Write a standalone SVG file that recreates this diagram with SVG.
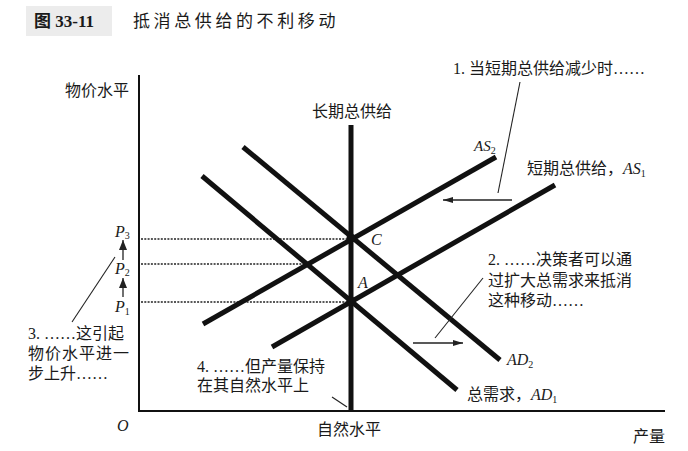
<svg xmlns="http://www.w3.org/2000/svg" width="688" height="451" viewBox="0 0 688 451">
<defs>
<style>
.cjk{font-family:"Liberation Serif","Noto Sans CJK SC",serif;font-size:16px;fill:#1a1a1a}
.it{font-family:"Liberation Serif",serif;font-style:italic;font-size:16px;fill:#1a1a1a}
.sub{font-size:10px;font-style:normal}
.curve{stroke:#111;stroke-width:5;fill:none;stroke-linecap:butt}
.axis{stroke:#111;stroke-width:2;fill:none}
.dot{stroke:#222;stroke-width:1.7;stroke-dasharray:2 1.3;fill:none}
.lead{stroke:#222;stroke-width:1.1;fill:none}
.arr{stroke:#222;stroke-width:1.3;fill:none}
</style>
<marker id="ah" viewBox="0 0 10 6" refX="10" refY="3" markerWidth="10" markerHeight="6" markerUnits="userSpaceOnUse" orient="auto">
<path d="M0,0 L10,3 L0,6 Z" fill="#222"/>
</marker>
<marker id="ahp" viewBox="0 0 8 10" refX="4" refY="0" markerWidth="8" markerHeight="10" markerUnits="userSpaceOnUse" orient="0">
<path d="M4,0 L8,10 L0,10 Z" fill="#222"/>
</marker>
</defs>
<rect width="688" height="451" fill="#fff"/>
<g id="title">
<rect x="26" y="6" width="86" height="30" fill="#ececec"/>
<text x="34" y="27" class="cjk" style="font-weight:bold;font-size:17px">图 33-11</text>
<text x="133" y="27" class="cjk" style="font-size:17px;letter-spacing:3.6px">抵消总供给的不利移动</text>
</g>
<g id="axes">
<line class="axis" x1="139" y1="75" x2="139" y2="411"/>
<line class="axis" x1="138" y1="411" x2="665" y2="411"/>
<text x="65" y="96" class="cjk">物价水平</text>
<text x="633" y="442" class="cjk">产量</text>
<text x="117" y="431" class="it">O</text>
</g>
<g id="price-levels">
<line class="dot" x1="141" y1="239" x2="349" y2="239"/>
<line class="dot" x1="141" y1="264" x2="305" y2="264"/>
<line class="dot" x1="141" y1="302" x2="349" y2="302"/>
<text x="115" y="237" class="it">P<tspan class="sub" dy="2">3</tspan></text>
<text x="115" y="274" class="it">P<tspan class="sub" dy="2">2</tspan></text>
<text x="115" y="312" class="it">P<tspan class="sub" dy="3">1</tspan></text>
</g>
<g id="lras">
<line class="curve" x1="351" y1="125" x2="351" y2="411"/>
<text x="312" y="117" class="cjk">长期总供给</text>
<text x="317" y="435" class="cjk">自然水平</text>
</g>
<g id="as2">
<line class="curve" x1="203" y1="324" x2="496" y2="157"/>
<text x="474" y="151" class="it" style="font-size:15px">AS<tspan class="sub" dy="3">2</tspan></text>
</g>
<g id="as1">
<line class="curve" x1="272" y1="347" x2="555" y2="185"/>
<text x="527" y="174" class="cjk">短期总供给，<tspan class="it">AS</tspan><tspan class="it sub" dy="3">1</tspan></text>
</g>
<g id="ad2">
<line class="curve" x1="243" y1="147" x2="500" y2="360"/>
<text x="507" y="365" class="it">AD<tspan class="sub" dy="3">2</tspan></text>
</g>
<g id="ad1">
<line class="curve" x1="202" y1="176" x2="457" y2="390"/>
<text x="467" y="400" class="cjk">总需求，<tspan class="it">AD</tspan><tspan class="it sub" dy="3">1</tspan></text>
</g>
<g id="point-c">
<circle cx="351" cy="238" r="4.5" fill="#111"/>
<text x="371" y="245" class="it">C</text>
</g>
<g id="point-a">
<circle cx="351" cy="301" r="4.5" fill="#111"/>
<text x="358" y="288" class="it">A</text>
</g>
<g id="note1">
<text x="453" y="74" class="cjk">1. 当短期总供给减少时……</text>
</g>
<g id="note2">
<text x="488" y="265" class="cjk">2. ……决策者可以通</text>
<text x="488" y="286" class="cjk">过扩大总需求来抵消</text>
<text x="488" y="306" class="cjk">这种移动……</text>
</g>
<g id="note3">
<text x="28" y="339" class="cjk">3. ……这引起</text>
<text x="28" y="359" class="cjk" style="letter-spacing:1px">物价水平进一</text>
<text x="28" y="379" class="cjk">步上升……</text>
</g>
<g id="note4">
<text x="197" y="372" class="cjk">4. ……但产量保持</text>
<text x="197" y="391" class="cjk">在其自然水平上</text>
</g>
<g id="connectors">
<line class="lead" x1="520" y1="82" x2="498" y2="193"/>
<line class="arr" x1="512" y1="200" x2="443" y2="200" marker-end="url(#ah)"/>
<line class="lead" x1="483" y1="278" x2="435" y2="338"/>
<line class="arr" x1="413" y1="343" x2="463" y2="343" marker-end="url(#ah)"/>
<line class="lead" x1="115" y1="257" x2="72" y2="322"/>
<line class="lead" x1="332" y1="397" x2="347" y2="407"/>
<line class="arr" x1="123" y1="260" x2="123" y2="240" marker-end="url(#ahp)"/>
<line class="arr" x1="123" y1="297" x2="123" y2="278" marker-end="url(#ahp)"/>
</g>
</svg>
